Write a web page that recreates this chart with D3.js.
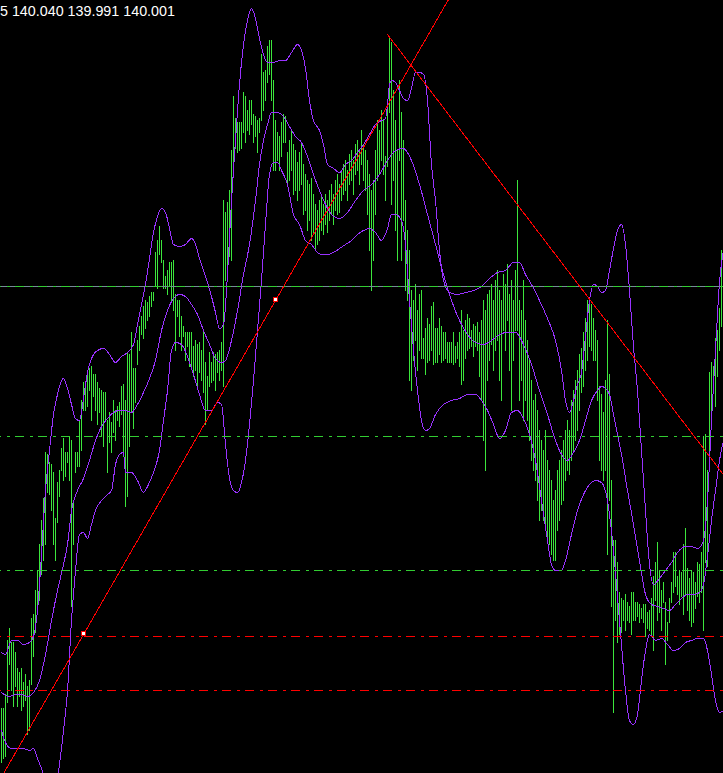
<!DOCTYPE html>
<html><head><meta charset="utf-8">
<script src="https://cdn.jsdelivr.net/npm/d3@7"></script>
<style>html,body{margin:0;padding:0;background:#000;overflow:hidden}</style>
</head><body>
<svg id="chart" width="723" height="773"></svg>
<script>
const ohlcText = "5 140.040 139.991 140.001";

const highs = [
137.96,137.96,138.03,138.30,138.36,138.29,138.29,138.24,138.16,138.14,
138.16,138.09,138.13,138.07,138.10,138.41,138.43,138.55,138.65,138.78,
138.90,139.01,139.24,139.23,139.19,139.18,139.14,138.91,139.09,139.15,
139.26,139.31,139.24,139.24,139.32,139.30,139.00,139.24,139.24,139.40,
139.50,139.59,139.57,139.64,139.66,139.67,139.63,139.63,139.59,139.56,
139.55,139.54,139.54,139.40,139.44,139.39,139.50,139.45,139.47,139.49,
139.57,139.58,139.50,139.74,139.73,139.84,139.66,139.66,139.80,139.87,
139.92,139.97,140.00,139.99,140.02,140.04,140.04,140.24,140.30,140.37,
140.30,140.20,140.12,140.15,140.19,140.19,140.20,140.03,140.00,140.00,
139.92,139.87,139.84,139.84,139.84,139.84,139.77,139.80,139.78,139.79,
139.75,139.84,139.69,139.62,139.74,139.69,139.74,139.73,139.74,139.75,
139.79,140.50,140.44,140.49,140.55,140.75,141.02,140.91,140.89,140.89,
140.89,141.04,141.02,140.95,141.00,141.00,140.93,140.92,140.90,140.91,
141.23,141.14,141.15,141.27,141.30,141.30,141.10,140.90,140.84,140.82,
140.89,140.93,140.92,140.74,140.80,140.85,140.78,140.75,140.69,140.74,
140.79,140.68,140.63,140.60,140.58,140.61,140.53,140.48,140.45,140.50,
140.53,140.48,140.53,140.50,140.55,140.58,140.53,140.60,140.63,140.58,
140.65,140.68,140.70,140.65,140.73,140.75,140.70,140.78,140.80,140.75,
140.85,140.78,140.75,140.70,140.63,140.55,140.60,140.75,140.90,140.85,
140.95,140.90,140.72,141.00,141.32,141.29,141.05,140.90,140.75,141.10,
140.94,140.80,140.50,140.35,140.25,140.05,140.00,140.08,139.95,140.03,
140.05,139.81,139.86,139.91,139.88,139.97,139.99,139.86,139.86,139.91,
139.87,139.84,139.84,139.79,139.79,139.79,139.84,139.77,139.79,139.84,
139.95,139.85,139.90,139.93,139.91,139.85,139.88,139.87,139.89,139.84,
139.90,140.00,139.95,140.03,140.05,140.08,140.00,140.10,140.15,140.05,
140.00,140.13,140.08,140.18,140.03,140.10,140.00,140.15,140.60,140.00,
139.95,140.10,139.90,139.80,139.70,139.60,139.50,139.53,139.45,139.35,
139.30,139.25,139.35,139.20,139.15,139.10,139.00,139.05,139.15,139.20,
139.25,139.30,139.35,139.40,139.35,139.50,139.55,139.60,139.65,139.73,
139.76,139.84,139.91,140.00,139.99,139.98,139.91,139.85,139.80,139.57,
139.53,139.44,139.60,139.90,139.63,139.10,138.80,138.80,138.69,138.54,
138.51,138.50,138.53,138.49,138.47,138.54,138.54,138.49,138.49,138.48,
138.46,138.48,138.48,138.44,138.45,138.51,138.62,138.69,138.79,138.65,
138.55,138.59,138.49,138.39,138.51,138.59,138.74,138.74,138.62,138.65,
138.64,138.78,138.86,138.66,138.61,138.65,138.64,138.59,138.69,138.68,
138.74,139.32,139.33,139.15,139.64,139.69,139.67,139.81,139.85,139.96,140.25
];
const lows = [
137.69,137.71,137.72,137.99,138.18,138.05,137.97,138.07,137.97,138.02,
137.95,137.97,138.00,137.83,137.85,138.08,138.22,138.34,138.43,138.50,
138.63,138.70,138.78,139.04,139.03,138.95,138.78,138.70,138.89,139.02,
139.15,139.10,139.12,139.19,139.10,138.47,138.78,139.14,139.17,139.17,
139.25,139.45,139.45,139.47,139.55,139.40,139.52,139.45,139.38,139.44,
139.32,139.27,139.40,139.14,139.29,139.24,139.34,139.30,139.40,139.37,
139.43,139.22,138.97,139.02,139.27,139.44,139.36,139.49,139.68,139.75,
139.83,139.81,139.86,139.90,139.92,139.97,140.00,140.07,140.06,140.23,
140.19,140.06,140.06,140.03,140.07,139.99,139.95,139.75,139.92,139.82,
139.75,139.82,139.70,139.77,139.67,139.67,139.62,139.65,139.57,139.64,
139.60,139.54,139.38,139.45,139.57,139.59,139.60,139.55,139.64,139.60,
139.65,139.57,140.10,140.12,140.22,140.20,140.65,140.76,140.74,140.75,
140.76,140.84,140.79,140.85,140.83,140.88,140.79,140.82,140.74,140.84,
140.90,140.95,141.00,141.09,141.13,141.00,140.65,140.65,140.70,140.65,
140.72,140.79,140.79,140.58,140.60,140.65,140.53,140.55,140.50,140.55,
140.58,140.43,140.45,140.35,140.40,140.30,140.33,140.25,140.28,140.30,
140.35,140.33,140.38,140.34,140.40,140.43,140.38,140.45,140.43,140.44,
140.50,140.53,140.55,140.50,140.58,140.60,140.53,140.63,140.65,140.58,
140.68,140.60,140.55,140.43,140.25,140.05,140.20,140.43,140.60,140.63,
140.70,140.63,140.50,140.67,140.94,140.48,140.60,140.35,140.20,140.70,
140.20,140.40,140.05,140.00,139.60,139.55,139.70,139.80,139.65,139.75,
139.71,139.71,139.63,139.69,139.70,139.75,139.68,139.69,139.69,139.73,
139.69,139.70,139.71,139.69,139.69,139.69,139.68,139.69,139.71,139.67,
139.58,139.60,139.71,139.75,139.76,139.77,139.72,139.77,139.75,139.62,
139.50,139.30,139.15,139.60,139.70,139.78,139.65,139.75,139.80,139.60,
139.50,139.85,139.75,139.90,139.65,139.45,139.70,139.85,139.85,139.50,
139.60,139.40,139.50,139.40,139.30,139.20,139.15,139.10,139.00,138.90,
138.95,138.90,138.85,138.80,138.78,138.73,138.70,138.70,138.85,138.90,
138.98,139.00,139.10,139.15,139.13,139.20,139.25,139.30,139.35,139.45,
139.54,139.57,139.65,139.70,139.77,139.75,139.70,139.70,139.50,139.20,
139.15,139.10,139.15,138.73,139.00,138.47,137.94,138.40,138.29,138.33,
138.34,138.40,138.35,138.40,138.39,138.33,138.40,138.40,138.42,138.39,
138.41,138.39,138.32,138.36,138.35,138.32,138.25,138.50,138.40,138.44,
138.35,138.49,138.18,138.30,138.39,138.49,138.54,138.57,138.53,138.48,
138.52,138.43,138.53,138.45,138.40,138.37,138.39,138.46,138.52,138.49,
138.54,138.35,138.69,138.67,139.15,139.42,139.60,139.47,139.62,139.75,139.87
];

const upperBand = [[0,138.24],[2,138.23],[5,138.30],[8,138.30],[11,138.28],[14,138.29],[16,138.32],[18,138.45],[20,138.73],[22,139.05],[24,139.25],[26,139.43],[28,139.53],[30,139.60],[31,139.61],[33,139.56],[35,139.48],[37,139.41],[39,139.40],[41,139.51],[43,139.64],[45,139.71],[48,139.75],[51,139.76],[54,139.73],[57,139.69],[60,139.72],[63,139.74],[66,139.78],[68,139.88],[70,139.98],[72,140.08],[74,140.21],[76,140.34],[78,140.42],[80,140.46],[82,140.44],[84,140.36],[86,140.28],[89,140.27],[92,140.28],[95,140.31],[97,140.28],[99,140.21],[101,140.15],[103,140.09],[105,140.02],[107,139.94],[109,139.86],[111,139.88],[113,140.13],[115,140.50],[117,140.80],[119,141.08],[121,141.28],[123,141.40],[125,141.46],[127,141.41],[129,141.31],[131,141.23],[133,141.19],[136,141.19],[139,141.20],[142,141.20],[145,141.24],[148,141.28],[150,141.25],[152,141.16],[154,141.00],[156,140.90],[159,140.85],[161,140.78],[163,140.68],[166,140.66],[169,140.64],[172,140.68],[175,140.70],[178,140.74],[181,140.78],[184,140.83],[187,140.88],[190,140.90],[192,140.91],[193,140.98],[194,141.08],[195,141.10],[197,141.09],[199,141.05],[201,141.01],[203,141.00],[205,141.06],[207,141.14],[209,141.14],[211,141.13],[213,141.00],[215,140.68],[217,140.50],[219,140.25],[221,140.10],[224,140.04],[228,140.03],[232,140.04],[236,140.05],[240,140.07],[244,140.11],[248,140.14],[252,140.15],[256,140.19],[259,140.19],[262,140.13],[265,140.08],[269,140.00],[273,139.91],[277,139.80],[280,139.65],[282,139.50],[284,139.44],[286,139.50],[288,139.58],[290,139.64],[292,139.82],[294,140.00],[296,140.08],[298,140.07],[300,140.04],[302,140.05],[304,140.15],[306,140.26],[308,140.35],[310,140.38],[312,140.28],[314,140.05],[316,139.77],[318,139.55],[320,139.25],[322,138.95],[324,138.68],[326,138.58],[329,138.61],[332,138.65],[335,138.69],[338,138.74],[342,138.77],[345,138.77],[348,138.76],[351,138.80],[353,139.00],[355,139.40],[357,139.75],[359,140.09],[361,140.25]];

const middleBand = [[0,138.04],[4,138.02],[7,138.03],[10,138.03],[13,138.02],[16,138.04],[19,138.10],[22,138.23],[25,138.40],[28,138.55],[31,138.68],[33,138.78],[35,138.95],[38,139.05],[41,139.11],[44,139.20],[47,139.30],[50,139.37],[53,139.41],[56,139.44],[59,139.45],[62,139.45],[65,139.44],[68,139.48],[71,139.54],[74,139.61],[77,139.70],[80,139.85],[83,139.95],[86,140.01],[89,140.03],[92,140.02],[95,139.98],[98,139.93],[101,139.85],[104,139.78],[107,139.71],[110,139.69],[112,139.70],[115,139.80],[118,139.95],[121,140.13],[124,140.28],[127,140.50],[129,140.68],[131,140.80],[133,140.88],[135,140.94],[138,140.94],[141,140.92],[144,140.87],[147,140.82],[150,140.79],[153,140.72],[156,140.63],[159,140.55],[162,140.48],[165,140.43],[169,140.41],[173,140.44],[177,140.50],[181,140.55],[185,140.58],[189,140.63],[193,140.70],[197,140.75],[201,140.76],[205,140.70],[209,140.58],[213,140.43],[217,140.28],[221,140.13],[225,140.00],[229,139.90],[233,139.83],[237,139.79],[241,139.78],[245,139.80],[249,139.83],[253,139.84],[257,139.84],[261,139.78],[265,139.68],[269,139.55],[273,139.43],[277,139.30],[280,139.23],[283,139.20],[286,139.24],[289,139.30],[292,139.40],[295,139.50],[298,139.55],[300,139.57],[302,139.56],[304,139.53],[306,139.43],[308,139.33],[310,139.23],[313,139.05],[316,138.88],[319,138.70],[322,138.53],[325,138.48],[328,138.47],[331,138.46],[334,138.45],[337,138.48],[340,138.51],[343,138.53],[346,138.53],[349,138.54],[351,138.58],[353,138.72],[355,138.90],[357,139.05],[359,139.20],[361,139.30]];

const lowerBand = [[0,137.85],[2,137.79],[5,137.76],[8,137.76],[11,137.76],[14,137.75],[16,137.76],[18,137.71],[20,137.66],[22,137.60],[25,137.50],[27,137.55],[29,137.68],[31,137.85],[33,138.05],[35,138.40],[37,138.65],[39,138.83],[41,138.84],[43,138.81],[45,138.88],[47,138.95],[50,139.00],[53,139.03],[55,139.05],[57,139.18],[59,139.23],[61,139.24],[62,139.14],[65,139.14],[68,139.10],[71,139.04],[73,139.07],[76,139.14],[79,139.25],[81,139.40],[83,139.55],[85,139.75],[87,139.79],[90,139.78],[93,139.72],[96,139.63],[99,139.53],[102,139.45],[105,139.45],[108,139.49],[110,139.48],[112,139.28],[114,139.11],[116,139.05],[118,139.04],[120,139.09],[122,139.20],[124,139.38],[126,139.60],[128,139.85],[130,140.10],[132,140.38],[134,140.63],[136,140.69],[138,140.69],[140,140.65],[143,140.58],[146,140.43],[149,140.38],[152,140.30],[155,140.28],[158,140.24],[160,140.23],[163,140.23],[166,140.24],[169,140.26],[172,140.28],[175,140.30],[178,140.33],[181,140.35],[184,140.36],[187,140.34],[190,140.30],[193,140.36],[195,140.43],[197,140.43],[200,140.40],[202,140.28],[204,140.00],[206,139.75],[208,139.55],[210,139.40],[212,139.35],[214,139.36],[217,139.43],[221,139.48],[225,139.50],[229,139.51],[233,139.53],[237,139.53],[240,139.50],[243,139.45],[246,139.38],[249,139.31],[252,139.35],[255,139.44],[258,139.45],[261,139.41],[264,139.33],[267,139.20],[270,139.00],[273,138.80],[275,138.68],[277,138.65],[280,138.65],[282,138.70],[285,138.83],[288,138.95],[291,139.03],[294,139.08],[297,139.10],[300,139.09],[303,139.00],[306,138.75],[309,138.40],[312,138.05],[314,137.90],[316,137.88],[318,137.93],[320,138.10],[322,138.25],[324,138.33],[327,138.30],[330,138.31],[333,138.28],[336,138.25],[339,138.26],[342,138.29],[345,138.30],[348,138.31],[351,138.31],[353,138.25],[355,138.13],[357,138.00],[359,137.94],[361,137.95]];

const bidLevel = 140.07;
const greenLevels = [140.07, 139.32, 138.65];
const redLevels = [138.32, 138.05];
const trend1 = [[41, 138.33], [137, 140.00]];
const trend2 = [[193, 141.33], [351, 139.26]];

const W = 723, H = 773;
const BAR_COLOR = "#3ce63c", BAND_COLOR = "#9932ff";

const svg = d3.select("#chart");
svg.append("rect").attr("width", W).attr("height", H).attr("fill", "#000");

const x = d3.scaleLinear().domain([0, 360]).range([1.5, 721.5]);
const y = d3.scaleLinear().domain([141.5, 141.5 - H / 200]).range([0.5, H + 0.5]);

// bars
svg.append("g").attr("shape-rendering", "crispEdges")
  .selectAll("line").data(d3.range(Math.min(highs.length, lows.length))).join("line")
  .attr("x1", i => x(i)).attr("x2", i => x(i))
  .attr("y1", i => y(highs[i]) - 0.5).attr("y2", i => y(lows[i]) + 0.5)
  .attr("stroke", BAR_COLOR).attr("stroke-width", 1);

// bands
const line = d3.line().x(d => x(d[0])).y(d => y(d[1])).curve(d3.curveMonotoneX);
svg.append("g").selectAll("path").data([upperBand, middleBand, lowerBand]).join("path")
  .attr("d", line).attr("fill", "none").attr("stroke", BAND_COLOR).attr("stroke-width", 1)
  .attr("shape-rendering", "crispEdges");

// horizontal levels
const hg = svg.append("g").attr("shape-rendering", "crispEdges");
hg.append("line").attr("x1", 0).attr("x2", W).attr("y1", y(bidLevel)).attr("y2", y(bidLevel))
  .attr("stroke", "#778899").attr("stroke-width", 1);
hg.selectAll("line.g").data(greenLevels).join("line").attr("class", "g")
  .attr("x1", 0).attr("x2", W).attr("y1", d => y(d)).attr("y2", d => y(d))
  .attr("stroke", "#32cd32").attr("stroke-width", 1)
  .attr("stroke-dasharray", "9,6,3,5").attr("stroke-dashoffset", 8);
hg.selectAll("line.r").data(redLevels).join("line").attr("class", "r")
  .attr("x1", 0).attr("x2", W).attr("y1", d => y(d)).attr("y2", d => y(d))
  .attr("stroke", "#ff0000").attr("stroke-width", 1.4)
  .attr("stroke-dasharray", "9,6,3,5").attr("stroke-dashoffset", 8);

// trend lines
function extend(a, b, x0, x1) {
  const ax = x(a[0]), ay = y(a[1]), bx = x(b[0]), by = y(b[1]);
  const k = (by - ay) / (bx - ax);
  return [[x0, ay + (x0 - ax) * k], [x1, ay + (x1 - ax) * k]];
}
const tg = svg.append("g").attr("shape-rendering", "crispEdges");
const t1 = extend(trend1[0], trend1[1], -5, W + 5);
const t2 = extend(trend2[0], trend2[1], x(trend2[0][0]), W + 5);
[t1, t2].forEach(seg => {
  tg.append("line").attr("x1", seg[0][0]).attr("y1", seg[0][1])
    .attr("x2", seg[1][0]).attr("y2", seg[1][1])
    .attr("stroke", "#ff0000").attr("stroke-width", 1);
});
tg.selectAll("rect").data(trend1).join("rect")
  .attr("x", d => Math.round(x(d[0])) - 2.5).attr("y", d => Math.round(y(d[1])) - 2.5)
  .attr("width", 4).attr("height", 4)
  .attr("fill", "#fff").attr("stroke", "#ff0000").attr("stroke-width", 1);

// OHLC text
svg.append("text").attr("x", 0).attr("y", 16)
  .attr("fill", "#fff").attr("font-family", "Liberation Sans, Arial, sans-serif")
  .attr("font-size", 14.3).text(ohlcText);
</script>
</body></html>
